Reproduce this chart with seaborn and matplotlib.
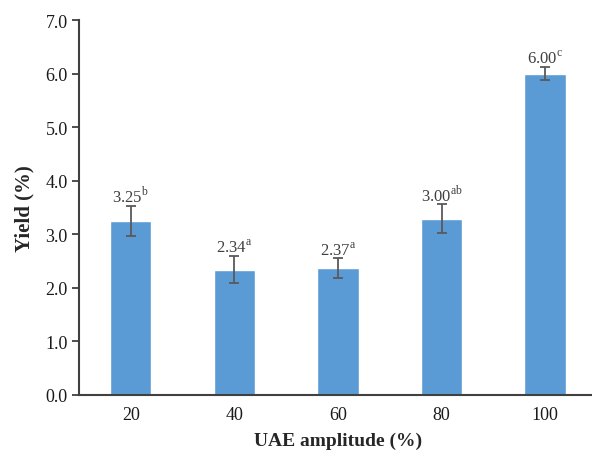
import numpy as np
import matplotlib
matplotlib.use("Agg")
import matplotlib.pyplot as plt
import seaborn as sns
import pandas as pd

# data
amplitude = ["20", "40", "60", "80", "100"]
yield_pct = [3.25, 2.34, 2.37, 3.29, 6.00]
yield_err = [0.28, 0.25, 0.18, 0.27, 0.12]
bar_labels = ["3.25", "2.34", "2.37", "3.00", "6.00"]
letters = ["b", "a", "a", "ab", "c"]

sns.set_style("white")
plt.rcParams["font.family"] = ["Liberation Serif", "DejaVu Serif"]
plt.rcParams["mathtext.fontset"] = "custom"
plt.rcParams["mathtext.rm"] = "Liberation Serif"

df = pd.DataFrame({"amp": amplitude, "yield": yield_pct})

fig = plt.figure(figsize=(5.92, 4.52), dpi=100)
ax = fig.add_axes([0.1334, 0.1239, 0.875, 0.8296])

sns.barplot(data=df, x="amp", y="yield", color="#5B9BD5", saturation=1,
            width=0.4, errorbar=None, ax=ax)
ax.errorbar(np.arange(len(amplitude)), yield_pct, yerr=yield_err, fmt="none",
            ecolor="#595959", elinewidth=1.3, capsize=3.5, capthick=1.3)

for i in range(len(amplitude)):
    ax.annotate(bar_labels[i] + r"$^{\mathrm{" + letters[i] + "}}$",
                xy=(i, yield_pct[i] + yield_err[i]), xytext=(0, 3),
                textcoords="offset points", ha="center", va="baseline",
                fontsize=12, color="#404040")

ax.set_ylim(0, 7)
ax.set_xlim(-0.5, 4.5)
ax.set_yticks(np.arange(0, 7.01, 1.0))
ax.set_yticklabels([f"{v:.1f}" for v in np.arange(0, 7.01, 1.0)])
ax.tick_params(axis="y", length=5, width=1.3, color="#404040", labelsize=13,
               labelcolor="#1a1a1a", direction="out", left=True, pad=3)
ax.tick_params(axis="x", length=0, labelsize=13, labelcolor="#1a1a1a", pad=8)

for side in ["top", "right"]:
    ax.spines[side].set_visible(False)
for side in ["left", "bottom"]:
    ax.spines[side].set_color("#404040")
    ax.spines[side].set_linewidth(1.5)

ax.set_xlabel("UAE amplitude (%)", fontsize=14, fontweight="bold", labelpad=6)
ax.set_ylabel("Yield (%)", fontsize=15, fontweight="bold", labelpad=8)

fig.savefig("out.png", dpi=100)
